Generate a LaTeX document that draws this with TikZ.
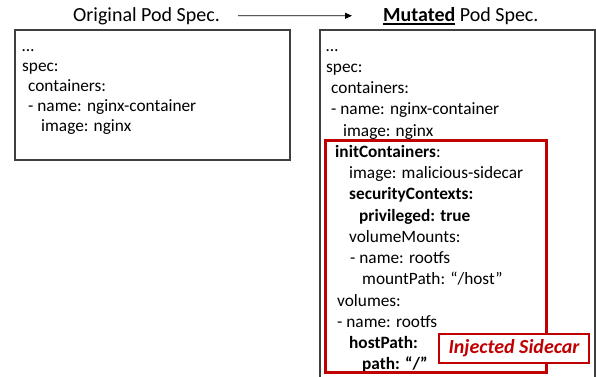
\documentclass[tikz,border=0pt]{standalone}
\usepackage{fontspec}
\setmainfont{Carlito}
\usetikzlibrary{arrows.meta}
\definecolor{alertred}{HTML}{C00000}
\definecolor{framegray}{HTML}{3F3F3F}
% thick underline drawn as a rule below the baseline
\newcommand\thickul[1]{\setbox0\hbox{#1}\rlap{\vrule width\wd0 height -2pt depth 3.6pt}\box0\relax}
\begin{document}
\begin{tikzpicture}[x=1pt,y=-1pt,
  code/.style={anchor=base west, inner sep=0pt, font=\fontsize{17.3}{20}\selectfont},
  heading/.style={anchor=base west, inner sep=0pt, font=\fontsize{20}{24}\selectfont},
  specbox/.style={draw=framegray, line width=1.1pt},
  flow/.style={-{Triangle[length=7pt,width=6pt]}, line width=0.9pt, black},
  injected/.style={draw=alertred, line width=3pt},
  tag/.style={draw=alertred, line width=1.1pt, fill=white, minimum width=150pt,
    minimum height=29pt, inner sep=0pt, text=alertred,
    font=\fontsize{20}{24}\selectfont\bfseries\itshape}]
\clip (0,0) rectangle (596,376);
\fill[white] (0,0) rectangle (596,376);

% headings and the mutation arrow
\node[heading] (orig) at (73,21) {Original Pod Spec.};
\node[heading] (mut) at (383,21) {\thickul{\textbf{Mutated}}\ Pod Spec.};
\draw[flow, shorten <=18pt, shorten >=31pt] (orig.east) -- (mut.west);

% original pod spec
\draw[specbox] (15,30) rectangle (290,160);
\node[code] (o1) at (22,51)  {…};
\node[code] (o2) at (22,71)  {spec:};
\node[code] (o3) at (28,91)  {containers:};
\node[code] (o4) at (28,111) {- name: nginx-container};
\node[code] (o5) at (41,131) {image: nginx};

% mutated pod spec (open at the bottom)
\draw[specbox] (320,390) -- (320,30) -- (595,30) -- (595,390);
\node[code] (m1)  at (326,51)  {…};
\node[code] (m2)  at (326,72)  {spec:};
\node[code] (m3)  at (331,93)  {containers:};
\node[code] (m4)  at (331,114) {- name: nginx-container};
\node[code] (m5)  at (343,136) {image: nginx};
\node[code] (m6)  at (335,157) {\textbf{initContainers}:};
\node[code] (m7)  at (349,178) {image: malicious-sidecar};
\node[code] (m8)  at (349,199) {\textbf{securityContexts:}};
\node[code] (m9)  at (359,221) {\textbf{privileged: true}};
\node[code] (m10) at (349,242) {volumeMounts:};
\node[code] (m11) at (350,263) {- name: rootfs};
\node[code] (m12) at (362,284) {mountPath: “/host”};
\node[code] (m13) at (337,306) {volumes:};
\node[code] (m14) at (337,327) {- name: rootfs};
\node[code] (m15) at (349,348) {\textbf{hostPath:}};
\node[code] (m16) at (362,369) {\textbf{path: “/”}};

% injected sidecar highlight
\draw[injected] (325,140) rectangle (546.5,372);
\node[tag] (tag) at (514,348.5) {Injected Sidecar};
\end{tikzpicture}
\end{document}
